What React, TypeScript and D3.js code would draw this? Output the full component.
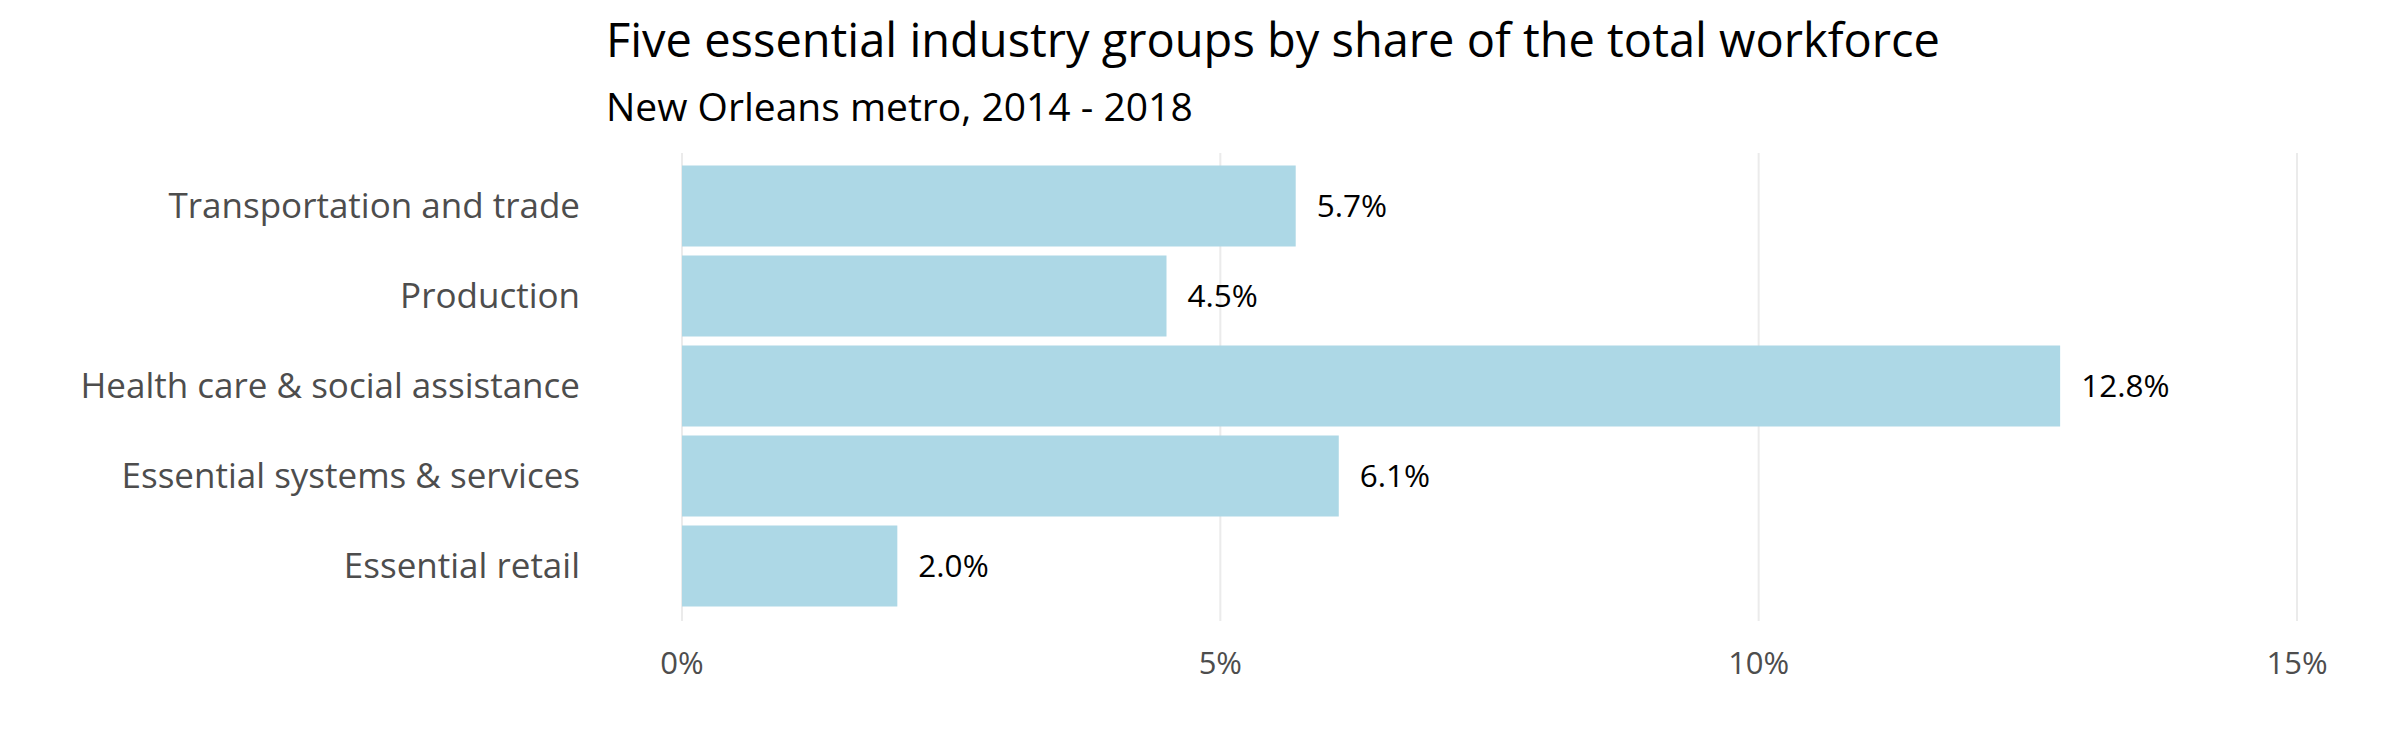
import React, { useEffect, useRef } from 'react';
import * as d3 from 'd3';

const categories = [
  'Transportation and trade',
  'Production',
  'Health care & social assistance',
  'Essential systems & services',
  'Essential retail'
];
const shares = [5.7, 4.5, 12.8, 6.1, 2.0];
const xTicks = [0, 5, 10, 15];

const width = 2400;
const height = 750;

const App: React.FC = () => {
  const svgRef = useRef<SVGSVGElement>(null);

  useEffect(() => {
    if (!svgRef.current) return;
    const svg = d3.select(svgRef.current);
    svg.selectAll('*').remove();

    const font = '"Open Sans", sans-serif';
    const left = 682;
    const right = 2297;
    const top = 153;
    const bottom = 621;

    const data = categories.map((c, i) => ({ name: c, value: shares[i] }));

    const x = d3.scaleLinear().domain([0, 15]).range([left, right]);

    // discrete axis, ggplot-like expansion (0.6 of a step beyond the outer bars)
    const y = d3.scaleBand()
      .domain(categories)
      .range([top - 1, bottom - 1])
      .paddingInner(0.1)
      .paddingOuter(0.15);

    // grid lines
    svg.append('g')
      .selectAll('line')
      .data(xTicks)
      .enter().append('line')
      .attr('x1', d => x(d))
      .attr('x2', d => x(d))
      .attr('y1', top)
      .attr('y2', bottom)
      .attr('stroke', '#ebebeb')
      .attr('stroke-width', 2);

    // bars
    svg.append('g')
      .selectAll('rect')
      .data(data)
      .enter().append('rect')
      .attr('x', x(0))
      .attr('y', d => y(d.name) || 0)
      .attr('width', d => x(d.value) - x(0))
      .attr('height', y.bandwidth())
      .attr('fill', '#add8e6');

    // value labels
    svg.append('g')
      .selectAll('text')
      .data(data)
      .enter().append('text')
      .attr('x', d => x(d.value) + 21)
      .attr('y', d => (y(d.name) || 0) + y.bandwidth() / 2)
      .attr('dy', '0.357em')
      .style('font-family', font)
      .style('font-size', '31.5px')
      .style('fill', '#000')
      .text(d => `${d.value.toFixed(1)}%`);

    // category labels
    svg.append('g')
      .selectAll('text')
      .data(categories)
      .enter().append('text')
      .attr('x', 580)
      .attr('y', d => (y(d) || 0) + y.bandwidth() / 2)
      .attr('dy', '0.357em')
      .attr('text-anchor', 'end')
      .style('font-family', font)
      .style('font-size', '35px')
      .style('fill', '#4d4d4d')
      .text(d => d);

    // x tick labels
    svg.append('g')
      .selectAll('text')
      .data(xTicks)
      .enter().append('text')
      .attr('x', d => x(d))
      .attr('y', 674)
      .attr('text-anchor', 'middle')
      .style('font-family', font)
      .style('font-size', '31px')
      .style('fill', '#4d4d4d')
      .text(d => `${d}%`);

    // title
    svg.append('text')
      .attr('x', 606)
      .attr('y', 57)
      .style('font-family', font)
      .style('font-size', '47px')
      .style('fill', '#000')
      .text('Five essential industry groups by share of the total workforce');

    svg.append('text')
      .attr('x', 606)
      .attr('y', 121)
      .style('font-family', font)
      .style('font-size', '39px')
      .style('fill', '#000')
      .text('New Orleans metro, 2014 - 2018');
  }, []);

  return (
    <svg
      ref={svgRef}
      width={width}
      height={height}
      style={{ position: 'absolute', left: 0, top: 0, background: 'white' }}
    ></svg>
  );
};

export default App;
